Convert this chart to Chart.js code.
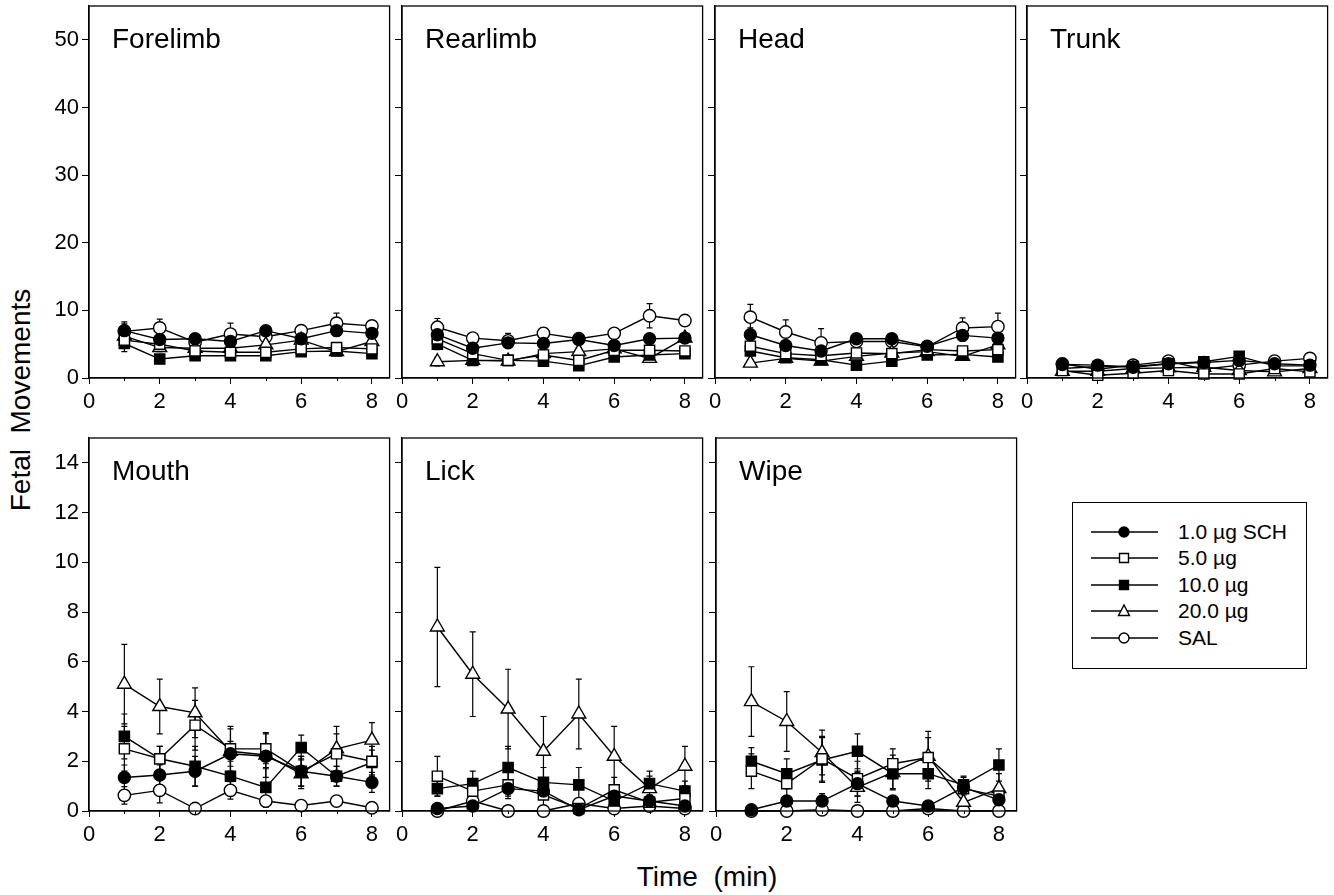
<!DOCTYPE html>
<html>
<head>
<meta charset="utf-8">
<script src="https://cdn.jsdelivr.net/npm/chart.js@4.4.1/dist/chart.umd.min.js"></script>
<style>
  html, body { margin:0; padding:0; background:#fff; }
  body { width:1334px; height:895px; position:relative; overflow:hidden; font-family:"Liberation Sans", Arial, Helvetica, sans-serif; color:#000; }
  canvas.panel { position:absolute; }
  .ytitle { position:absolute; left:21px; top:400px; font-size:28px; white-space:pre; transform:translate(-50%,-50%) rotate(-90deg); }
  .xtitle { position:absolute; left:707px; top:877px; font-size:28px; white-space:pre; transform:translate(-50%,-50%); }
  .legend { position:absolute; left:1072px; top:502px; width:235px; height:167px; border:1.3px solid #000; box-sizing:border-box; }
  .legend canvas { position:absolute; left:17px; }
  .legend span { position:absolute; left:105px; font-size:21px; line-height:22px; white-space:pre; }
</style>
</head>
<body>
<div class="ytitle">Fetal  Movements</div>
<div class="xtitle">Time  (min)</div>
<div class="legend" id="legend"></div>
<script>
// x values (min) and group labels
const TIMES = [1, 2, 3, 4, 5, 6, 7, 8];
const SERIES = ['1.0 \u00b5g SCH', '5.0 \u00b5g', '10.0 \u00b5g', '20.0 \u00b5g', 'SAL'];
const X_TICKS = [0, 2, 4, 6, 8];
const X_MINOR = [1, 3, 5, 7];
const TOP_Y_TICKS = [0, 10, 20, 30, 40, 50];
const BOT_Y_TICKS = [0, 2, 4, 6, 8, 10, 12, 14];

// rows: 1.0 SCH, 5.0, 10.0, 20.0, SAL
const forelimbMean = [
  [7.0, 5.7, 5.8, 5.4, 7.0, 5.8, 7.0, 6.6],
  [5.6, 5.0, 4.0, 3.8, 3.8, 4.3, 4.5, 4.3],
  [5.1, 2.8, 3.3, 3.3, 3.3, 3.9, 4.0, 3.6],
  [6.2, 4.5, 4.4, 4.4, 4.9, 5.6, 3.9, 5.4],
  [6.9, 7.4, 5.3, 6.5, 6.1, 7.0, 8.1, 7.7]
];
const forelimbErr = [
  [1.0, 0.8, 0.6, 0.7, 0.5, 0.6, 0.8, 0.7],
  [0.8, 0.6, 0.5, 0.5, 0.5, 0.5, 0.6, 0.5],
  [1.2, 0.5, 0.5, 0.5, 0.5, 0.5, 0.6, 0.5],
  [0.9, 0.6, 0.6, 0.6, 0.6, 0.6, 0.6, 0.7],
  [1.4, 1.3, 0.6, 1.6, 0.6, 0.5, 1.5, 0.7]
];
const rearlimbMean = [
  [6.4, 4.4, 5.2, 5.1, 5.7, 4.8, 5.8, 5.9],
  [5.8, 3.6, 2.6, 3.4, 2.6, 4.1, 4.1, 4.0],
  [5.0, 2.6, 2.6, 2.5, 1.8, 3.1, 3.4, 3.6],
  [2.4, 2.6, 2.5, 3.6, 3.9, 4.3, 2.9, 5.9],
  [7.5, 5.9, 5.5, 6.6, 5.8, 6.6, 9.2, 8.5]
];
const rearlimbErr = [
  [0.9, 0.6, 0.6, 0.7, 0.5, 0.6, 0.7, 0.6],
  [0.7, 0.5, 0.4, 0.5, 0.4, 0.5, 0.6, 0.5],
  [0.8, 0.4, 0.4, 0.4, 0.4, 0.4, 0.5, 0.5],
  [0.6, 0.5, 0.4, 0.5, 0.6, 0.6, 0.5, 0.7],
  [1.3, 0.5, 1.1, 0.8, 0.5, 0.5, 1.8, 0.8]
];
const headMean = [
  [6.4, 4.8, 4.0, 5.8, 5.8, 4.7, 6.3, 5.9],
  [4.7, 3.6, 3.3, 3.7, 3.6, 4.2, 4.0, 4.2],
  [4.0, 3.0, 2.7, 1.9, 2.5, 3.4, 3.5, 3.1],
  [2.2, 2.9, 2.5, 3.2, 3.7, 3.9, 3.2, 4.9],
  [9.0, 6.8, 5.2, 5.4, 5.4, 4.6, 7.4, 7.6]
];
const headErr = [
  [1.0, 0.7, 0.6, 0.6, 0.6, 0.5, 0.8, 0.7],
  [0.8, 0.5, 0.5, 0.5, 0.5, 0.5, 0.6, 0.5],
  [0.7, 0.5, 0.4, 0.4, 0.4, 0.4, 0.5, 0.5],
  [0.5, 0.5, 0.4, 0.5, 0.5, 0.5, 0.6, 0.6],
  [1.9, 1.8, 2.1, 0.7, 0.7, 0.6, 1.5, 2.0]
];
const trunkMean = [
  [2.0, 1.9, 1.6, 2.1, 2.3, 2.6, 2.1, 1.9],
  [1.1, 0.4, 0.7, 1.1, 0.6, 0.6, 1.4, 0.9],
  [1.4, 1.7, 1.7, 2.1, 2.4, 3.2, 1.8, 1.8],
  [1.0, 1.0, 1.4, 1.5, 1.6, 1.1, 0.9, 1.4],
  [2.1, 1.3, 1.9, 2.5, 1.3, 1.9, 2.5, 2.9]
];
const trunkErr = [
  [0.5, 0.4, 0.4, 0.5, 0.5, 0.5, 0.5, 0.4],
  [0.4, 0.3, 0.3, 0.4, 0.3, 0.3, 0.4, 0.3],
  [0.4, 0.4, 0.4, 0.5, 0.5, 0.6, 0.4, 0.4],
  [0.4, 0.3, 0.4, 0.4, 0.4, 0.4, 0.3, 0.4],
  [0.8, 0.4, 0.6, 0.8, 0.4, 0.5, 0.8, 0.5]
];
const mouthMean = [
  [1.35, 1.45, 1.6, 2.3, 2.2, 1.6, 1.4, 1.15],
  [2.5, 2.1, 3.45, 2.5, 2.5, 1.6, 2.3, 2.0],
  [3.0, 2.1, 1.8, 1.4, 0.95, 2.55, 1.4, 1.95],
  [5.1, 4.2, 3.95, 2.4, 2.25, 1.5, 2.5, 2.85],
  [0.63, 0.83, 0.1, 0.83, 0.4, 0.22, 0.4, 0.13]
];
const mouthErr = [
  [0.5, 0.4, 0.6, 0.5, 0.5, 0.6, 0.4, 0.4],
  [0.9, 0.5, 1.0, 0.9, 0.6, 0.6, 0.8, 0.6],
  [0.9, 0.5, 0.8, 0.6, 0.8, 0.5, 0.4, 0.5],
  [1.6, 1.1, 1.0, 0.9, 0.9, 0.6, 0.9, 0.7],
  [0.35, 0.5, 0.1, 0.35, 0.15, 0.1, 0.15, 0.1]
];
const lickMean = [
  [0.1, 0.2, 0.9, 0.8, 0.05, 0.6, 0.4, 0.2],
  [1.4, 0.8, 1.05, 0.65, 0.1, 0.85, 0.35, 0.5],
  [0.9, 1.1, 1.75, 1.15, 1.05, 0.4, 1.1, 0.8],
  [7.4, 5.5, 4.1, 2.4, 3.9, 2.2, 0.9, 1.8],
  [0.0, 0.4, 0.0, 0.0, 0.3, 0.1, 0.2, 0.1]
];
const lickErr = [
  [0.1, 0.2, 0.3, 0.3, 0.05, 0.3, 0.2, 0.1],
  [0.8, 0.4, 0.55, 0.5, 0.1, 0.5, 0.3, 0.3],
  [0.3, 0.5, 0.85, 0.6, 0.7, 0.3, 0.5, 0.4],
  [2.4, 1.7, 1.6, 1.4, 1.4, 1.2, 0.5, 0.8],
  [0.05, 0.2, 0.05, 0.05, 0.1, 0.1, 0.1, 0.1]
];
const wipeMean = [
  [0.05, 0.4, 0.4, 1.1, 0.4, 0.2, 0.95, 0.45],
  [1.6, 1.1, 2.1, 1.3, 1.9, 2.15, 0.9, 0.6],
  [2.0, 1.5, 2.05, 2.4, 1.5, 1.5, 1.05, 1.85],
  [4.4, 3.6, 2.35, 0.95, 1.55, 2.2, 0.35, 0.9],
  [0.0, 0.0, 0.05, 0.0, 0.0, 0.1, 0.0, 0.0]
];
const wipeErr = [
  [0.1, 0.2, 0.3, 0.5, 0.2, 0.1, 0.3, 0.3],
  [0.7, 0.5, 0.9, 0.7, 0.6, 0.8, 0.5, 0.3],
  [0.55, 0.6, 0.9, 0.7, 0.6, 0.6, 0.3, 0.65],
  [1.4, 1.2, 0.9, 0.6, 0.7, 1.0, 0.4, 0.6],
  [0.05, 0.05, 0.05, 0.05, 0.05, 0.05, 0.05, 0.05]
];

// marker look per group
const MARKERS = [
  { style:'circle',   bg:'#000', r:6 },
  { style:'rect',     bg:'#fff', r:7.2 },
  { style:'rect',     bg:'#000', r:7.2 },
  { style:'triangle', bg:'#fff', r:8 },
  { style:'circle',   bg:'#fff', r:6.2 }
];

// panel placement (plot area)
const PLOT_W = 302;
const AXIS_W = 70, AXIS_H = 44, PAD_T = 22, PAD_R = 8;
const ROWS = [
  { top:6,   height:372, yMax:55, yTicks:TOP_Y_TICKS },
  { top:438, height:373, yMax:15, yTicks:BOT_Y_TICKS }
];
const PANELS = [
  { title:'Forelimb', mean:forelimbMean, err:forelimbErr, row:0, left:89,  yLabels:true },
  { title:'Rearlimb', mean:rearlimbMean, err:rearlimbErr, row:0, left:402, yLabels:false },
  { title:'Head',     mean:headMean,     err:headErr,     row:0, left:715, yLabels:false },
  { title:'Trunk',    mean:trunkMean,    err:trunkErr,    row:0, left:1027, yLabels:false },
  { title:'Mouth',    mean:mouthMean,    err:mouthErr,    row:1, left:89,  yLabels:true },
  { title:'Lick',     mean:lickMean,     err:lickErr,     row:1, left:402, yLabels:false },
  { title:'Wipe',     mean:wipeMean,     err:wipeErr,     row:1, left:716, yLabels:false }
];

const FONT = '"Liberation Sans", Arial, Helvetica, sans-serif';

const errorBars = {
  id:'errorBars',
  beforeDatasetsDraw(chart) {
    const ctx = chart.ctx, ys = chart.scales.y, a = chart.chartArea;
    ctx.save();
    ctx.beginPath(); ctx.rect(a.left, a.top, a.right - a.left, a.bottom - a.top + 2); ctx.clip();
    ctx.strokeStyle = '#000'; ctx.lineWidth = 1.2;
    chart.data.datasets.forEach((ds, i) => {
      chart.getDatasetMeta(i).data.forEach((pt, j) => {
        const v = ds.data[j].y, e = ds.errors[j];
        const y1 = ys.getPixelForValue(v + e), y2 = ys.getPixelForValue(v - e);
        ctx.beginPath();
        ctx.moveTo(pt.x, y1); ctx.lineTo(pt.x, y2);
        ctx.moveTo(pt.x - 3, y1); ctx.lineTo(pt.x + 3, y1);
        ctx.moveTo(pt.x - 3, y2); ctx.lineTo(pt.x + 3, y2);
        ctx.stroke();
      });
    });
    ctx.restore();
  }
};

const frame = {
  id:'frame',
  afterDraw(chart, args, opts) {
    const ctx = chart.ctx, a = chart.chartArea, xs = chart.scales.x;
    ctx.save();
    ctx.strokeStyle = '#000'; ctx.lineWidth = 1.3;
    ctx.strokeRect(a.left, a.top, a.right - a.left, a.bottom - a.top);
    ctx.lineWidth = 1;
    X_MINOR.forEach(v => {
      const x = Math.round(xs.getPixelForValue(v)) + 0.5;
      ctx.beginPath(); ctx.moveTo(x, a.bottom); ctx.lineTo(x, a.bottom + 3); ctx.stroke();
    });
    ctx.fillStyle = '#000';
    ctx.font = '28px ' + FONT;
    ctx.textBaseline = 'alphabetic';
    ctx.fillText(opts.title, a.left + 23, a.top + 42);
    ctx.restore();
  }
};

PANELS.forEach(p => {
  const row = ROWS[p.row];
  const cv = document.createElement('canvas');
  cv.className = 'panel';
  const w = AXIS_W + PLOT_W + PAD_R, h = PAD_T + row.height + AXIS_H;
  cv.width = w; cv.height = h;
  cv.style.left = (p.left - AXIS_W) + 'px';
  cv.style.top = (row.top - PAD_T) + 'px';
  cv.style.width = w + 'px'; cv.style.height = h + 'px';
  document.body.appendChild(cv);

  new Chart(cv, {
    type:'line',
    data:{
      datasets: p.mean.map((vals, i) => ({
        label: SERIES[i],
        data: TIMES.map((t, j) => ({ x:t, y:vals[j] })),
        errors: p.err[i],
        borderColor:'#000', borderWidth:1.4, tension:0, clip:false,
        pointStyle: MARKERS[i].style, pointRadius: MARKERS[i].r,
        pointBackgroundColor: MARKERS[i].bg, pointBorderColor:'#000', pointBorderWidth:1.4
      }))
    },
    options:{
      responsive:false, animation:false, devicePixelRatio:1,
      layout:{ padding:{ top:PAD_T, right:PAD_R, left:0, bottom:0 } },
      events:[],
      plugins:{ legend:{ display:false }, tooltip:{ enabled:false }, frame:{ title:p.title } },
      scales:{
        x:{
          type:'linear', min:0, max:8.5, bounds:'data',
          afterBuildTicks: s => { s.ticks = X_TICKS.map(v => ({ value:v })); },
          afterFit: s => { s.height = AXIS_H; },
          grid:{ drawOnChartArea:false, color:'#000', lineWidth:1, tickLength:6 },
          border:{ color:'#000', width:1.3 },
          ticks:{ color:'#000', font:{ family:FONT, size:22 }, padding:5, maxRotation:0, autoSkip:false }
        },
        y:{
          type:'linear', min:0, max:row.yMax, bounds:'data',
          afterBuildTicks: s => { s.ticks = row.yTicks.map(v => ({ value:v })); },
          afterFit: s => { s.width = AXIS_W; },
          grid:{ drawOnChartArea:false, color:'#000', lineWidth:1, tickLength:7 },
          border:{ color:'#000', width:1.3 },
          ticks:{ display:p.yLabels, color:'#000', font:{ family:FONT, size:22 }, padding:3, autoSkip:false }
        }
      }
    },
    plugins:[errorBars, frame]
  });
});

// legend
const legend = document.getElementById('legend');
SERIES.forEach((name, i) => {
  const cy = 29 + i * 26.4;
  const c = document.createElement('canvas');
  c.width = 70; c.height = 20;
  c.style.top = (cy - 10) + 'px';
  legend.appendChild(c);
  const ctx = c.getContext('2d');
  ctx.strokeStyle = '#000'; ctx.lineWidth = 1.3;
  ctx.beginPath(); ctx.moveTo(1, 10); ctx.lineTo(68, 10); ctx.stroke();
  const m = MARKERS[i];
  ctx.fillStyle = m.bg; ctx.lineWidth = 1.4;
  ctx.beginPath();
  if (m.style === 'circle') ctx.arc(34, 10, 5, 0, Math.PI * 2);
  else if (m.style === 'rect') ctx.rect(34 - 4.5, 10 - 4.5, 9, 9);
  else { ctx.moveTo(34, 4); ctx.lineTo(39.5, 14.5); ctx.lineTo(28.5, 14.5); ctx.closePath(); }
  ctx.fill(); ctx.stroke();
  const s = document.createElement('span');
  s.textContent = name;
  s.style.top = (cy - 11) + 'px';
  legend.appendChild(s);
});
</script>
</body>
</html>
